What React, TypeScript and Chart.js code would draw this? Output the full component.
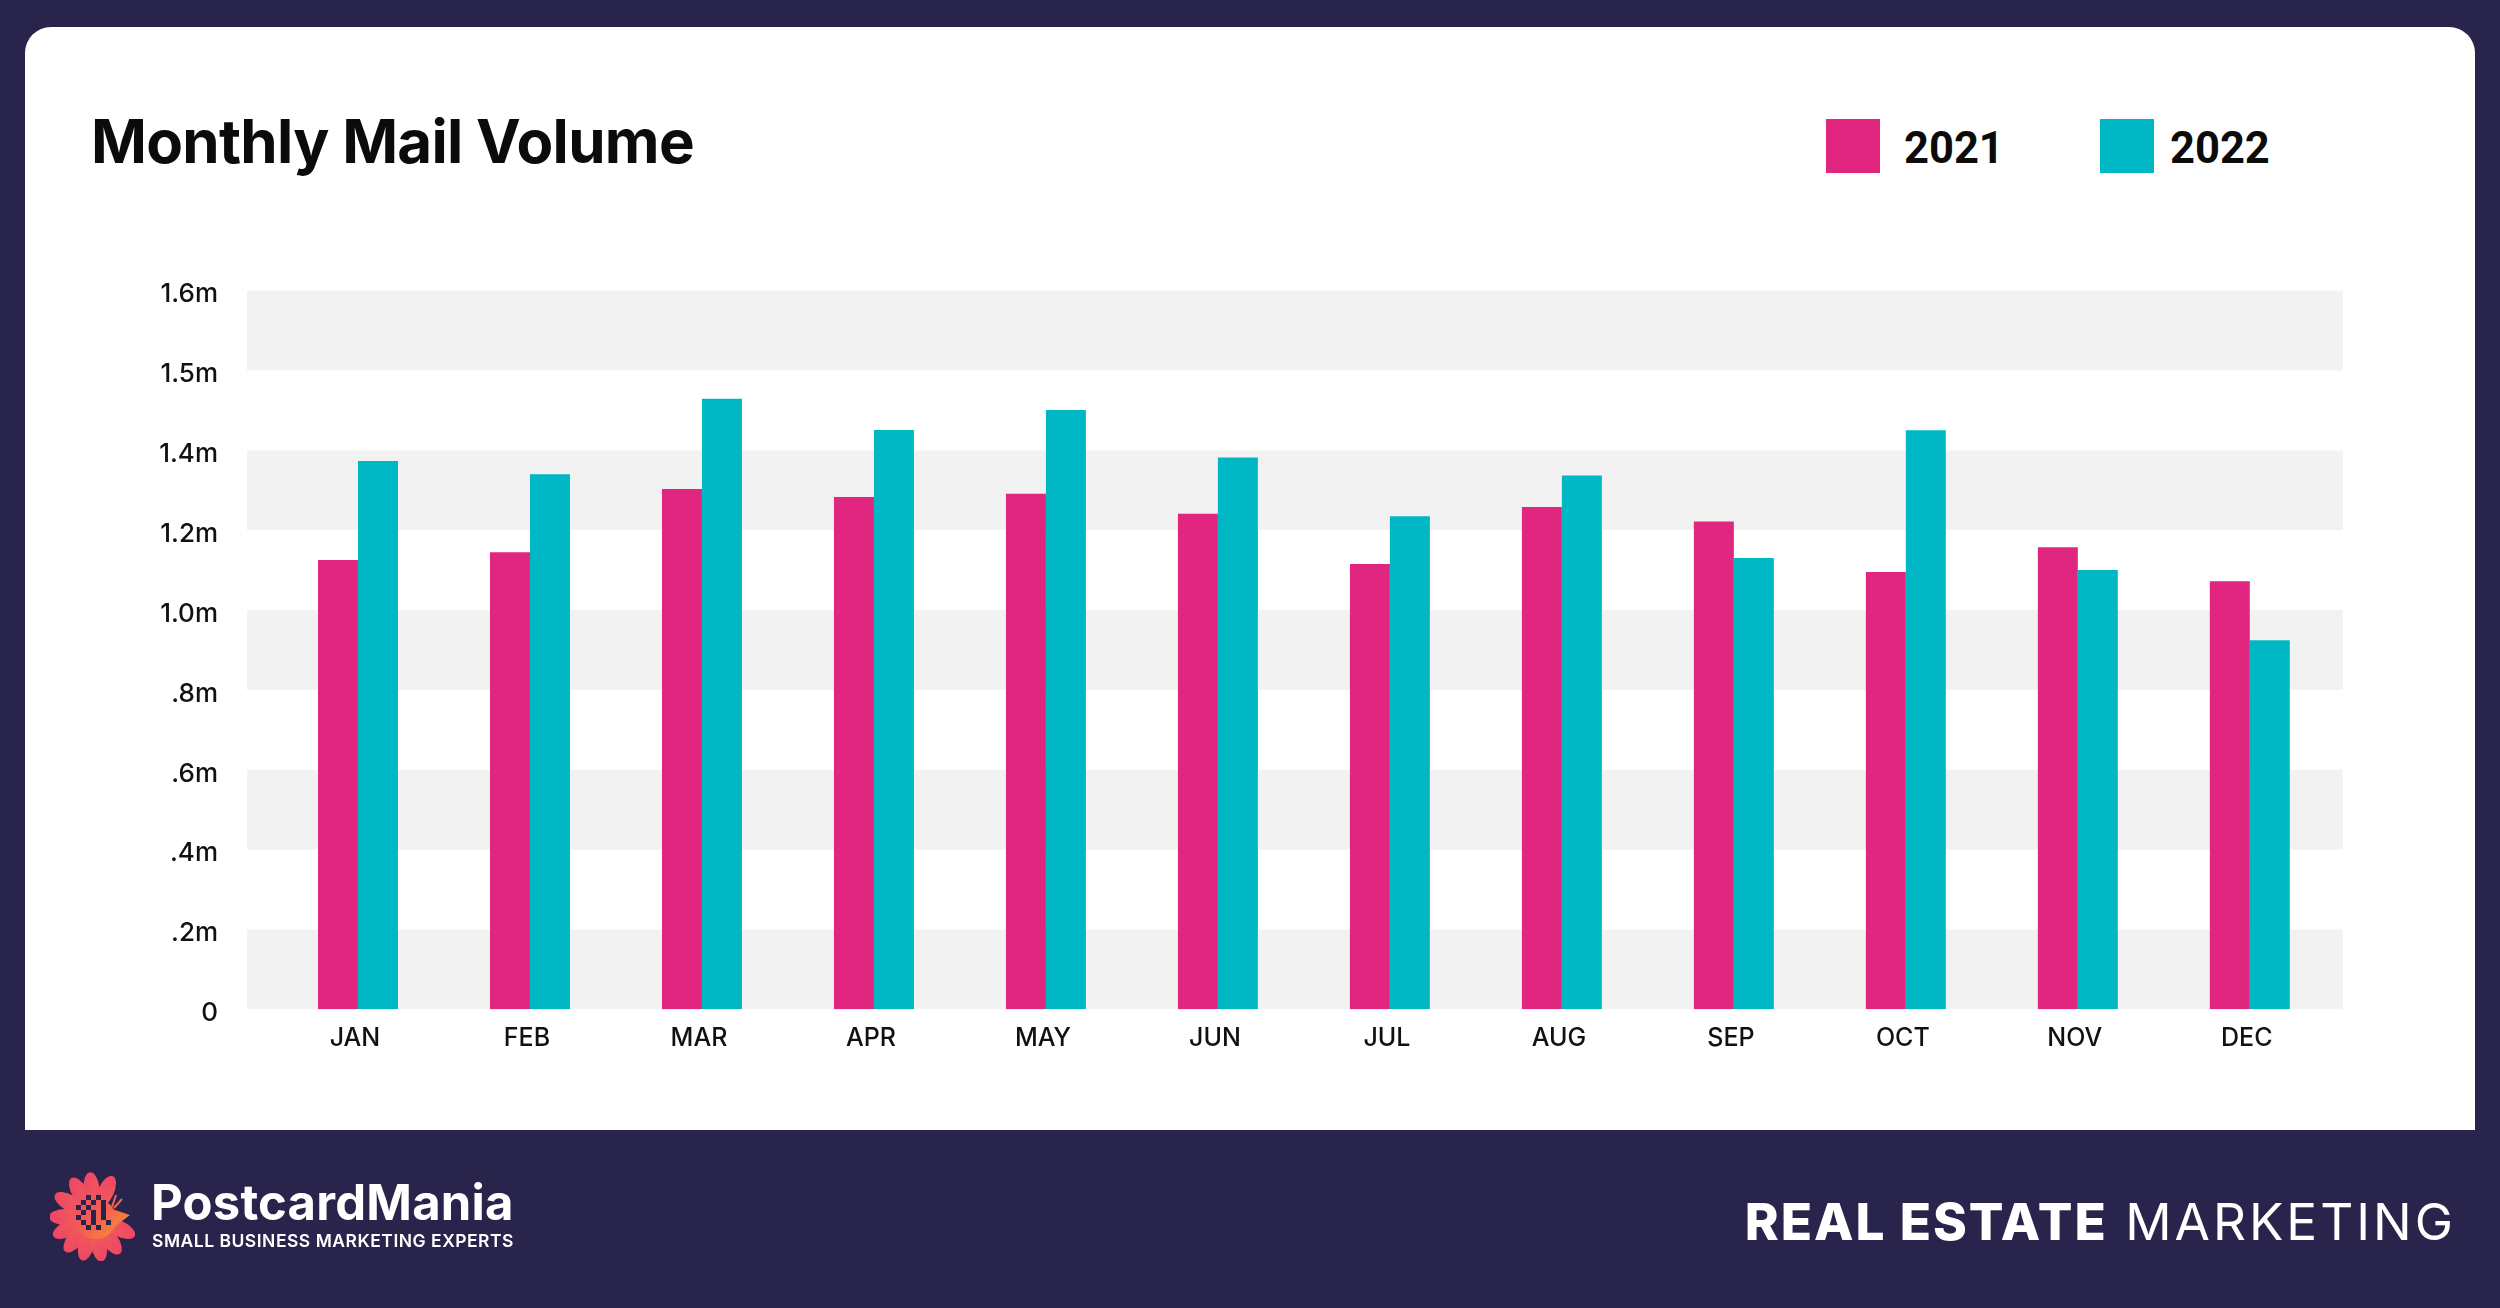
import React, { useEffect, useRef } from "react";
import { Chart, registerables } from "chart.js";

Chart.register(...registerables);

const months = ["JAN", "FEB", "MAR", "APR", "MAY", "JUN", "JUL", "AUG", "SEP", "OCT", "NOV", "DEC"];
const series2021 = [1.125, 1.145, 1.303, 1.283, 1.291, 1.241, 1.115, 1.258, 1.222, 1.095, 1.157, 1.072];
const series2022 = [1.373, 1.34, 1.529, 1.451, 1.501, 1.382, 1.235, 1.337, 1.13, 1.45, 1.1, 0.924];
const yTickLabels = ["0", ".2m", ".4m", ".6m", ".8m", "1.0m", "1.2m", "1.4m", "1.5m", "1.6m"];
const seriesNames = ["2021", "2022"];
const chartTitle = "Monthly Mail Volume";

const PINK = "#E1267F";
const TEAL = "#00B7C5";
const NAVY = "#29244B";
const BAND = "#F2F2F2";

const bandsPlugin = {
  id: "bands",
  beforeDatasetsDraw(chart: any) {
    const { ctx, chartArea, scales } = chart;
    const y = scales.y;
    const ticks = y.ticks;
    const left = chartArea.left - 25;
    const right = chartArea.right + 7;
    ctx.save();
    ctx.fillStyle = BAND;
    for (let i = 0; i < ticks.length - 1; i += 2) {
      const y0 = y.getPixelForValue(ticks[i].value);
      const y1 = y.getPixelForValue(ticks[i + 1].value);
      ctx.fillRect(left, y1, right - left, y0 - y1);
    }
    ctx.restore();
  },
};

function Flower() {
  const angles = [-150, -120, -95, -65, -180, 155, 130, 105, 80, 55, 25];
  const squares = [] as any[];
  const pattern = [
    "..x.x..",
    ".x.x.x.",
    "x.x..x.",
    ".x.x.x.",
    "x..x.x.",
    ".x.x..x",
    "..x.x..",
  ];
  pattern.forEach((row, r) => {
    row.split("").forEach((c, k) => {
      if (c === "x") squares.push(<rect key={`${r}-${k}`} x={26 + k * 5} y={24 + r * 5} width={5} height={5} fill={NAVY} />);
    });
  });
  return (
    <svg width={88} height={90} viewBox="0 0 88 90" style={{ position: "absolute", left: 50, top: 1171 }}>
      <defs>
        <linearGradient id="fg2" x1="0" y1="0" x2="88" y2="88" gradientUnits="userSpaceOnUse">
          <stop offset="0" stopColor="#E8307A" />
          <stop offset="0.55" stopColor="#F4634F" />
          <stop offset="1" stopColor="#F8B814" />
        </linearGradient>
      </defs>
      <g>
        {angles.map((a, i) => (
          <ellipse key={i} cx={44} cy={18} rx={8} ry={17} fill="url(#fg2)" transform={`rotate(${a + 90} 44 46)`} />
        ))}
        <circle cx={46} cy={48} r={20} fill="url(#fg2)" />
        <path d="M56 36 L80 44 L64 56 Z" fill="url(#fg2)" />
        <line x1={62} y1={36} x2={66} y2={24} stroke="#F4634F" strokeWidth={2} />
        <line x1={64} y1={37} x2={72} y2={28} stroke="#F4634F" strokeWidth={2} />
        {squares}
      </g>
    </svg>
  );
}

export default function App() {
  const canvasRef = useRef<HTMLCanvasElement | null>(null);

  useEffect(() => {
    if (!canvasRef.current) return;
    const chart = new Chart(canvasRef.current, {
      type: "bar",
      data: {
        labels: months,
        datasets: [
          { label: seriesNames[0], data: series2021, backgroundColor: PINK, borderWidth: 0 },
          { label: seriesNames[1], data: series2022, backgroundColor: TEAL, borderWidth: 0 },
        ],
      },
      options: {
        responsive: false,
        maintainAspectRatio: false,
        animation: false,
        events: [],
        layout: { padding: { left: 0, top: 290.6, right: 164.2, bottom: 238.7 } },
        datasets: { bar: { categoryPercentage: 0.465, barPercentage: 1 } },
        plugins: { legend: { display: false }, title: { display: false }, tooltip: { enabled: false } },
        scales: {
          x: {
            grid: { display: false, drawTicks: false },
            border: { display: false },
            ticks: {
              color: "#111111",
              padding: 14,
              labelOffset: -3,
              font: { family: "Inter", size: 25, weight: "500" },
            },
            afterFit(scale: any) {
              scale.height = 60;
            },
          },
          y: {
            min: 0,
            max: 1.8,
            grid: { display: false, drawTicks: false },
            border: { display: false },
            ticks: {
              stepSize: 0.2,
              autoSkip: false,
              color: "#111111",
              padding: 54,
              labelOffset: 4,
              font: { family: "Inter", size: 26, weight: "500" },
              callback: (_v: any, i: number) => yTickLabels[i],
            },
            afterFit(scale: any) {
              scale.width = 272;
            },
          },
        },
      },
      plugins: [bandsPlugin],
    } as any);
    return () => chart.destroy();
  }, []);

  const abs = (s: any) => ({ position: "absolute", margin: 0, whiteSpace: "nowrap", lineHeight: 1, ...s });

  return (
    <div style={{ position: "absolute", left: 0, top: 0, width: 2500, height: 1308, background: NAVY, overflow: "hidden", fontFamily: "Inter, sans-serif" }}>
      <div style={{ position: "absolute", left: 25, top: 27, width: 2450, height: 1103, background: "#FFFFFF", borderRadius: "26px 26px 0 0" }} />
      <div style={abs({ left: 91, top: 111, fontSize: 60, fontWeight: 700, color: "#0B0B0B", letterSpacing: -0.7 })}>{chartTitle}</div>
      <div style={abs({ left: 1826, top: 119, width: 54, height: 54, background: PINK })} />
      <div style={abs({ left: 1904, top: 127, fontSize: 43.5, fontWeight: 700, color: "#0B0B0B", fontFamily: "Roboto" })}>{seriesNames[0]}</div>
      <div style={abs({ left: 2100, top: 119, width: 54, height: 54, background: TEAL })} />
      <div style={abs({ left: 2170, top: 127, fontSize: 43.5, fontWeight: 700, color: "#0B0B0B", fontFamily: "Roboto" })}>{seriesNames[1]}</div>
      <canvas ref={canvasRef} width={2500} height={1308} style={{ position: "absolute", left: 0, top: 0, width: 2500, height: 1308 }} />
      <Flower />
      <div style={abs({ left: 151, top: 1178, fontSize: 49, fontWeight: 700, color: "#FFFFFF", letterSpacing: 0.2 })}>PostcardMania</div>
      <div style={abs({ left: 152, top: 1232, fontSize: 17.5, fontWeight: 600, color: "#FFFFFF", letterSpacing: 0.5 })}>SMALL BUSINESS MARKETING EXPERTS</div>
      <div style={abs({ right: 44, top: 1196, fontSize: 51.3, color: "#FFFFFF" })}>
        <span style={{ fontWeight: 800, letterSpacing: 2 }}>REAL ESTATE</span>
        <span style={{ fontWeight: 400, letterSpacing: 3 }}> MARKETING</span>
      </div>
    </div>
  );
}
